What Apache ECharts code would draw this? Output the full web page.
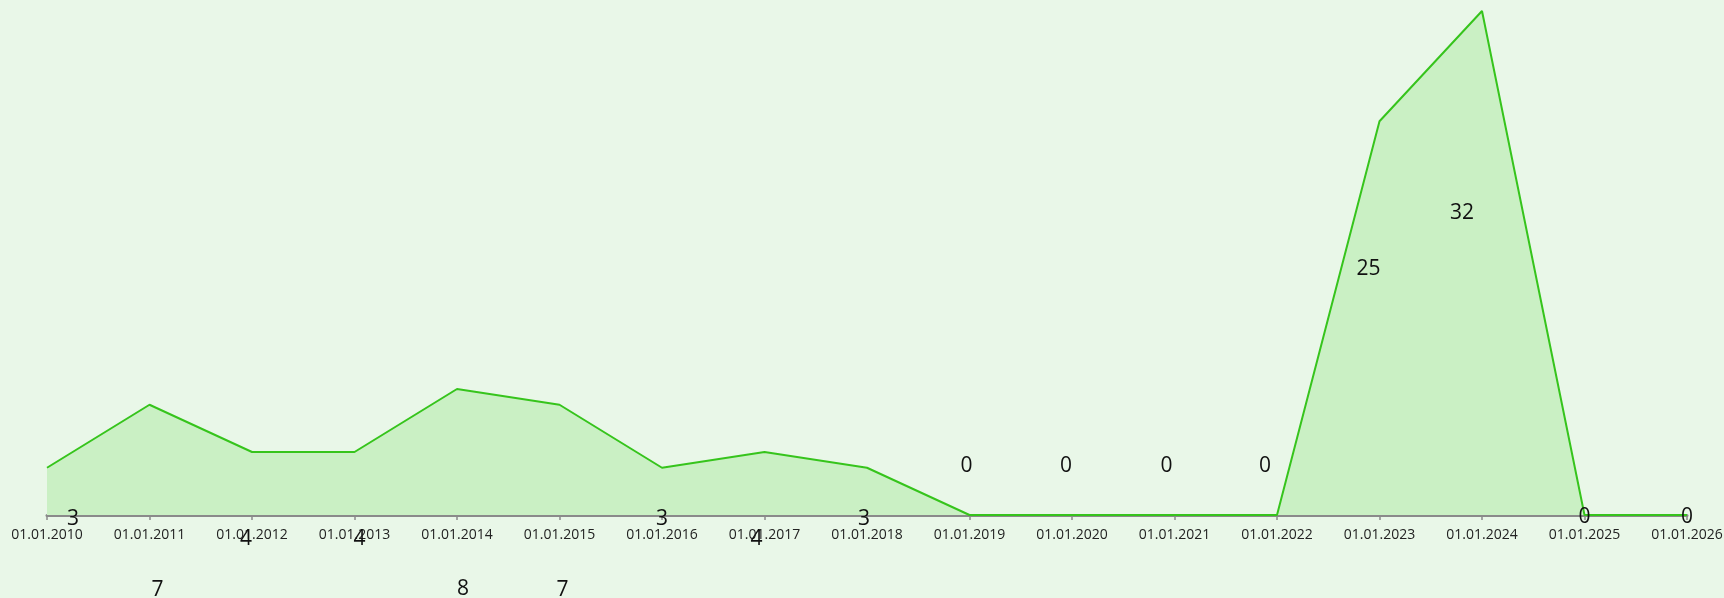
<!DOCTYPE html>
<html>
<head>
<meta charset="utf-8">
<script src="https://cdn.jsdelivr.net/npm/echarts@6/dist/echarts.min.js"></script>
<style>
html,body{margin:0;padding:0;background:#e9f7e8;}
#c{width:1724px;height:598px;}
</style>
</head>
<body>
<div id="c"></div>
<script>
var categories = ['01.01.2010','01.01.2011','01.01.2012','01.01.2013','01.01.2014','01.01.2015','01.01.2016','01.01.2017','01.01.2018','01.01.2019','01.01.2020','01.01.2021','01.01.2022','01.01.2023','01.01.2024','01.01.2025','01.01.2026'];
var values = [3, 7, 4, 4, 8, 7, 3, 4, 3, 0, 0, 0, 0, 25, 32, 0, 0];
// label offsets (px) from each point, mimicking the original placement
var labelOffsets = [[26,51],[8,185],[-6,87],[5,87],[6,200],[3,185],[0,51],[-8,87],[-3,51],[-3,-49],[-6,-49],[-8,-49],[-12,-49],[-11,148],[-20,202],[0,2],[0,2]];

var data = values.map(function(v, i){
  return { value: v, label: { offset: labelOffsets[i] } };
});

var chart = echarts.init(document.getElementById('c'));
chart.setOption({
  backgroundColor: '#e9f7e8',
  animation: false,
  grid: { left: 47, right: 37, top: 11, bottom: 83, containLabel: false, outerBoundsMode: 'none' },
  xAxis: {
    type: 'category',
    data: categories,
    boundaryGap: false,
    z: 1,
    axisLine: { lineStyle: { color: '#8a8a8a', width: 3 } },
    axisTick: { show: true, length: 5, lineStyle: { color: '#8a8a8a', width: 1.5 } },
    axisLabel: { color: '#222', fontFamily: 'Open Sans', fontSize: 14, margin: 13, interval: 0 },
    splitLine: { show: false }
  },
  yAxis: {
    type: 'value',
    min: 0, max: 32,
    show: false
  },
  series: [{
    type: 'line',
    data: data,
    z: 3,
    showSymbol: true,
    symbol: 'circle',
    symbolSize: 1,
    itemStyle: { color: 'rgba(0,0,0,0)' },
    lineStyle: { color: '#36c41c', width: 2 },
    areaStyle: { color: '#caf0c4', opacity: 1 },
    label: {
      show: true,
      position: 'inside',
      color: '#111',
      fontFamily: 'Open Sans',
      fontSize: 21
    },
    emphasis: { disabled: true }
  }]
});
</script>
</body>
</html>
